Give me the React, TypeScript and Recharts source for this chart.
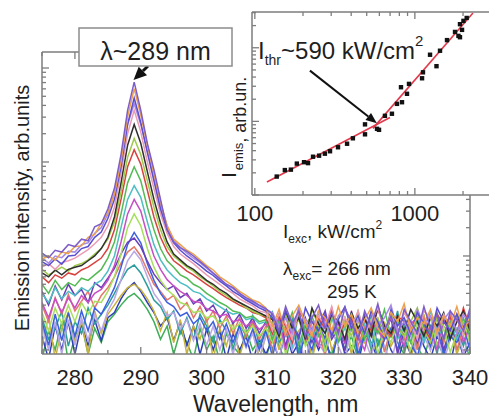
import React from 'react';
import { LineChart, Line, XAxis, YAxis, ComposedChart, Scatter, ReferenceLine } from 'recharts';

const FONT = '"Liberation Sans", Arial, sans-serif';
const AXIS = '#7d7d7d';
const INK = '#1f1f1f';

// wavelength grid, nm
const wavelengths = [
  275, 276, 277, 278, 279, 280, 281, 282, 283, 284,
  285, 286, 287, 288, 289, 290, 291, 292, 293, 294,
  295, 296, 297, 298, 299, 300, 301, 302, 303, 304,
  305, 306, 307, 308, 309, 310, 311, 312, 313, 314,
  315, 316, 317, 318, 319, 320, 321, 322, 323, 324,
  325, 326, 327, 328, 329, 330, 331, 332, 333, 334,
  335, 336, 337, 338, 339, 340,
];

// emission spectra, arb. units (lowest excitation first)
const grass = [
  0.8, 1.6, 1.0, 2.0, 0.75, 1.4, 1.9, 0.9, 1.7, 1.2,
  2.0, 2.4, 3.0, 3.6, 4.0, 3.4, 2.7, 2.0, 1.3, 1.8,
  0.9, 1.6, 1.2, 0.8, 1.7, 1.0, 1.4, 0.75, 1.5, 1.1,
  0.9, 1.6, 1.0, 1.3, 0.8, 1.5, 1.1, 0.75, 1.7, 1.0,
  1.3, 0.8, 1.9, 1.1, 0.9, 1.6, 1.0, 1.4, 0.8, 1.8,
  1.0, 1.3, 0.75, 1.6, 1.2, 0.9, 1.7, 1.1, 0.8, 1.5,
  1.2, 0.9, 1.6, 1.0, 1.4, 0.8,
];
const navy = [
  1.4, 0.8, 1.8, 1.0, 2.0, 0.9, 1.9, 1.12, 2.1, 1.26,
  2.2, 2.5, 3.5, 4.5, 5.2, 4.2, 3.2, 2.5, 1.8, 2.2,
  1.26, 2.0, 1.12, 1.8, 0.9, 1.66, 1.0, 1.6, 0.8, 1.5,
  1.0, 1.4, 0.76, 1.3, 0.9, 1.3, 0.8, 1.6, 0.9, 1.2,
  0.7, 1.5, 1.0, 1.4, 0.75, 1.7, 0.9, 1.1, 0.7, 1.5,
  1.2, 0.8, 1.6, 1.0, 0.75, 1.3, 0.9, 1.7, 1.1, 0.8,
  1.4, 1.0, 0.7, 1.5, 0.85, 1.2,
];
const gold = [
  1.1, 2.3, 0.8, 1.7, 2.5, 1.2, 2.0, 0.9, 2.6, 1.5,
  2.4, 3.0, 3.8, 4.6, 5.0, 4.4, 3.5, 2.6, 1.6, 2.5,
  1.2, 2.1, 0.9, 1.8, 1.3, 2.2, 0.8, 1.7, 1.1, 2.0,
  0.85, 1.5, 1.9, 0.8, 1.4, 1.9, 1.0, 2.3, 1.3, 1.6,
  2.0, 0.8, 1.5, 2.2, 1.0, 1.4, 1.8, 0.9, 2.1, 1.2,
  1.6, 0.8, 2.0, 1.1, 1.5, 1.9, 0.85, 1.3, 2.4, 1.0,
  1.6, 1.2, 1.9, 0.9, 1.4, 2.1,
];
const teal = [
  2.2, 1.3, 1.7, 2.6, 1.1, 2.0, 1.5, 2.8, 1.9, 2.4,
  3.0, 4.0, 5.5, 7.2, 8.0, 6.6, 4.8, 3.4, 2.9, 2.1,
  2.6, 1.5, 2.2, 1.3, 2.4, 1.8, 1.2, 2.1, 1.6, 1.0,
  1.9, 1.4, 2.3, 1.1, 1.7, 2.5, 1.2, 1.6, 2.2, 0.9,
  1.8, 1.3, 2.4, 1.0, 1.6, 2.1, 1.2, 1.9, 0.85, 1.5,
  2.3, 1.1, 1.7, 1.4, 2.6, 1.0, 1.5, 2.0, 1.2, 1.8,
  0.9, 2.2, 1.4, 1.7, 1.1, 2.0,
];
const lavender = [
  1.8, 1.0, 2.0, 0.9, 2.1, 1.12, 2.2, 1.26, 2.4, 1.6,
  2.6, 3.5, 5.6, 8.9, 11.2, 9.1, 6.0, 4.0, 3.2, 2.3,
  2.5, 1.66, 2.1, 1.26, 1.9, 1.12, 1.8, 1.0, 1.66, 0.9,
  1.6, 1.05, 1.5, 0.8, 1.45, 1.4, 0.8, 1.7, 1.0, 1.5,
  0.7, 1.8, 1.2, 0.9, 1.6, 1.1, 0.75, 1.9, 1.0, 1.3,
  0.85, 1.7, 1.1, 0.7, 1.5, 1.2, 1.8, 0.8, 1.4, 1.0,
  1.6, 0.75, 1.3, 1.7, 0.9, 1.5,
];
const salmon = [
  3.0, 2.0, 3.6, 2.4, 3.9, 2.6, 3.3, 4.2, 2.8, 3.8,
  4.6, 6.0, 8.4, 11, 12.5, 10, 7.0, 5.0, 4.2, 3.4,
  3.8, 2.7, 3.2, 2.2, 2.9, 2.0, 2.6, 1.7, 2.3, 1.5,
  2.2, 1.4, 2.0, 1.3, 1.8, 1.0, 2.1, 1.4, 1.7, 2.5,
  1.2, 2.0, 1.5, 0.9, 2.2, 1.6, 1.3, 2.4, 1.1, 1.8,
  1.4, 2.1, 0.95, 1.7, 2.3, 1.3, 1.9, 1.0, 2.2, 1.5,
  1.8, 1.2, 2.4, 1.0, 1.7, 1.3,
];
const blue = [
  2.0, 1.12, 2.4, 1.26, 2.5, 1.4, 2.6, 1.6, 2.8, 2.4,
  3.3, 4.6, 7.6, 13.2, 17.8, 13.8, 8.3, 5.5, 4.0, 3.2,
  2.9, 2.3, 2.5, 1.9, 2.2, 1.6, 2.0, 1.3, 1.9, 1.2,
  1.8, 1.1, 1.66, 1.0, 1.6, 0.85, 1.7, 1.1, 2.0, 0.8,
  1.5, 1.0, 1.9, 1.3, 0.75, 1.6, 1.2, 2.1, 0.9, 1.4,
  1.8, 0.8, 1.3, 1.7, 1.0, 2.0, 1.2, 0.85, 1.6, 1.1,
  1.9, 0.9, 1.4, 1.2, 1.8, 1.0,
];
const indigo = [
  4.2, 3.0, 4.8, 3.4, 5.0, 3.8, 4.4, 3.2, 5.2, 4.6,
  5.8, 7.4, 10.5, 14, 15.5, 12.5, 8.8, 6.4, 5.2, 4.4,
  4.8, 3.6, 4.0, 3.1, 3.5, 2.6, 3.0, 2.2, 2.7, 1.9,
  2.4, 1.7, 2.2, 1.5, 2.0, 1.6, 2.4, 1.1, 1.9, 1.4,
  2.2, 1.2, 1.8, 2.6, 1.3, 1.7, 1.0, 2.1, 1.5, 2.4,
  1.1, 1.8, 1.4, 2.2, 0.9, 1.6, 2.0, 1.2, 1.9, 1.5,
  2.3, 1.0, 1.7, 1.3, 2.1, 1.4,
];
const lime = [
  2.5, 1.6, 2.8, 1.9, 3.0, 2.0, 3.2, 2.4, 3.3, 3.2,
  4.2, 6.0, 10.5, 20, 28, 21, 12, 7.6, 5.5, 4.4,
  3.8, 3.2, 3.0, 2.5, 2.6, 2.2, 2.3, 1.9, 2.1, 1.66,
  1.9, 1.5, 1.8, 1.4, 1.7, 1.2, 1.9, 0.9, 1.6, 2.2,
  1.1, 1.5, 2.0, 0.95, 1.7, 1.3, 2.3, 1.0, 1.8, 1.4,
  2.1, 0.9, 1.6, 1.2, 2.0, 1.5, 1.0, 1.9, 1.3, 2.2,
  1.1, 1.7, 0.95, 1.5, 2.0, 1.2,
];
const magenta = [
  3.2, 2.2, 3.5, 2.5, 3.6, 2.8, 3.8, 3.2, 4.0, 4.4,
  5.5, 7.9, 14.1, 28, 40, 30, 16.6, 10, 7.2, 5.6,
  4.8, 4.2, 3.8, 3.3, 3.2, 2.75, 2.6, 2.3, 2.4, 2.0,
  2.1, 1.8, 2.0, 1.65, 1.9, 1.5, 2.1, 1.0, 1.8, 2.4,
  1.3, 1.7, 1.1, 2.2, 1.5, 1.9, 1.2, 2.6, 1.4, 1.0,
  2.0, 1.6, 1.3, 2.3, 1.5, 1.1, 1.9, 2.2, 1.4, 1.7,
  1.0, 2.1, 1.5, 2.4, 1.2, 1.8,
];
const cyan = [
  4.0, 3.2, 4.6, 3.5, 4.2, 3.8, 4.6, 4.2, 5.0, 5.5,
  6.9, 10, 20, 40, 56, 42, 23, 13.2, 9.1, 7.1,
  6.0, 5.2, 4.8, 4.2, 4.0, 3.5, 3.2, 2.9, 2.6, 2.4,
  2.5, 2.1, 2.2, 1.9, 2.0, 2.2, 1.4, 1.8, 1.1, 2.4,
  1.6, 1.3, 2.0, 1.5, 2.3, 1.2, 1.7, 2.5, 1.4, 1.9,
  1.1, 2.1, 1.6, 2.4, 1.3, 1.8, 1.5, 2.2, 1.2, 2.6,
  1.7, 1.4, 2.0, 1.3, 1.9, 2.3,
];
const green = [
  5.0, 4.0, 5.5, 4.4, 5.2, 4.8, 5.8, 5.5, 6.3, 7.2,
  9.5, 14.1, 28, 60, 89, 63, 33, 19, 12, 8.9,
  7.6, 6.3, 5.8, 5.0, 4.6, 4.0, 3.6, 3.2, 2.95, 2.6,
  2.5, 2.2, 2.3, 2.0, 2.1, 1.3, 2.0, 1.6, 2.5, 1.1,
  1.9, 2.3, 1.4, 1.8, 2.6, 1.2, 2.1, 1.6, 2.4, 1.3,
  1.9, 1.5, 2.7, 1.4, 2.0, 1.7, 1.2, 2.3, 1.8, 1.5,
  2.5, 1.3, 2.0, 1.6, 2.2, 1.4,
];
const red = [
  6.0, 5.2, 6.3, 5.8, 6.6, 6.3, 7.1, 7.6, 8.5, 9.5,
  12, 19, 40, 89, 135, 95, 50, 26, 15.8, 11.2,
  8.9, 7.9, 6.9, 6.3, 5.6, 5.0, 4.5, 4.0, 3.6, 3.3,
  3.0, 2.8, 2.5, 2.4, 2.2, 1.5, 2.3, 1.8, 1.2, 2.6,
  2.0, 1.4, 2.2, 1.7, 2.8, 1.5, 1.9, 2.4, 1.3, 2.1,
  1.6, 2.7, 1.8, 1.4, 2.3, 2.0, 1.5, 2.6, 1.7, 1.3,
  2.4, 1.9, 2.2, 1.5, 2.8, 1.7,
];
const olive = [
  7.2, 6.3, 6.9, 7.6, 6.9, 7.9, 8.3, 9.1, 10.5, 12,
  15.1, 23, 48, 112, 178, 120, 63, 33, 19, 12.6,
  10, 8.7, 7.6, 6.9, 6.0, 5.4, 4.8, 4.2, 3.8, 3.4,
  3.2, 2.8, 2.6, 2.4, 2.3, 1.9, 1.3, 2.4, 1.6, 2.1,
  1.4, 2.7, 1.8, 1.2, 2.3, 1.7, 2.0, 1.4, 2.6, 1.5,
  1.9, 2.2, 1.3, 2.5, 1.7, 1.4, 2.0, 2.8, 1.6, 1.2,
  2.2, 1.8, 1.5, 2.4, 1.9, 1.6,
];
const black = [
  6.6, 6.0, 7.1, 6.3, 7.2, 7.6, 7.9, 8.9, 10, 12,
  15.8, 26, 60, 151, 251, 158, 79, 40, 22.4, 14.1,
  10.5, 9.1, 7.9, 7.2, 6.3, 5.5, 5.0, 4.4, 4.0, 3.5,
  3.2, 2.95, 2.7, 2.5, 2.3, 2.1, 1.4, 2.6, 1.7, 2.2,
  1.3, 2.8, 1.9, 1.5, 2.4, 2.0, 1.3, 2.5, 1.7, 2.2,
  1.4, 2.9, 1.8, 1.5, 2.3, 1.6, 2.7, 2.0, 1.4, 2.2,
  1.8, 2.5, 1.3, 2.0, 2.6, 1.6,
];
const pink = [
  7.6, 8.3, 7.2, 8.5, 8.9, 9.5, 10.5, 11.7, 13.5, 15.8,
  20.9, 33, 76, 200, 355, 209, 100, 52, 28, 17.4,
  12.6, 10.5, 9.3, 8.3, 7.2, 6.3, 5.6, 5.0, 4.4, 4.0,
  3.5, 3.2, 2.95, 2.6, 2.5, 1.6, 2.4, 1.9, 1.3, 2.7,
  2.1, 1.5, 2.3, 1.8, 2.9, 1.4, 2.2, 1.7, 2.6, 1.5,
  2.0, 2.8, 1.6, 2.3, 1.4, 2.5, 1.9, 1.3, 2.6, 2.2,
  1.5, 2.4, 1.8, 2.1, 1.5, 2.7,
];
const lilac = [
  9.5, 8.4, 10, 9.6, 11.2, 11.0, 13.2, 13.8, 17.4, 20,
  28, 46, 100, 251, 417, 251, 132, 69, 35.5, 21,
  14.8, 12.3, 10.7, 9.5, 8.5, 7.4, 6.5, 5.6, 5.0, 4.5,
  4.0, 3.5, 3.2, 2.95, 2.7, 2.5, 1.8, 2.2, 1.5, 2.9,
  2.0, 1.6, 2.6, 1.9, 1.4, 2.3, 2.8, 1.7, 2.1, 1.5,
  2.5, 1.8, 2.2, 3.0, 1.6, 2.0, 1.4, 2.7, 1.9, 2.3,
  1.6, 2.1, 2.6, 1.5, 2.4, 1.9,
];
const violet = [
  8.7, 7.9, 9.3, 8.2, 10, 10.2, 12, 12.6, 15.8, 18,
  25, 40, 89, 251, 479, 263, 126, 63, 31.6, 19,
  13.8, 11.5, 10, 8.9, 7.9, 6.9, 6.2, 5.4, 4.8, 4.2,
  3.8, 3.4, 3.1, 2.8, 2.6, 2.2, 1.5, 2.6, 1.9, 1.3,
  2.8, 2.0, 1.6, 2.4, 1.4, 2.1, 2.9, 1.7, 2.3, 1.5,
  2.6, 2.0, 1.3, 2.7, 1.8, 2.2, 1.5, 2.5, 1.9, 1.4,
  2.8, 2.0, 1.6, 2.4, 1.7, 2.5,
];
const orange = [
  9.3, 10, 9.0, 11, 10.6, 12.6, 12.8, 15.8, 17.0, 22.4,
  28.8, 45.7, 100, 302, 603, 316, 151, 76, 38, 20.9,
  15.1, 13.2, 11.5, 10.5, 9.1, 7.9, 7.1, 6.0, 5.4, 4.8,
  4.2, 3.8, 3.4, 3.2, 2.8, 1.8, 2.7, 1.5, 2.3, 3.0,
  1.9, 1.4, 2.6, 2.2, 1.6, 2.9, 1.8, 2.4, 1.5, 2.1,
  2.8, 1.7, 1.4, 2.5, 2.0, 3.1, 1.6, 2.2, 1.9, 2.7,
  1.5, 2.3, 1.8, 2.9, 1.6, 2.2,
];
const purple = [
  10.7, 9.6, 11.5, 11.0, 13.2, 12.6, 15.1, 14.5, 20.4, 22,
  31.6, 52.5, 120, 355, 708, 355, 158, 83, 40, 19.1,
  14.1, 12.3, 11.2, 10, 8.7, 7.6, 6.6, 5.75, 5.0, 4.6,
  4.0, 3.6, 3.3, 3.0, 2.75, 2.4, 1.6, 2.9, 1.9, 2.6,
  1.4, 2.2, 3.0, 1.7, 2.5, 1.5, 2.8, 2.0, 1.3, 2.6,
  1.8, 3.1, 1.6, 2.3, 1.4, 2.7, 2.0, 1.5, 2.9, 1.7,
  2.4, 1.3, 2.6, 2.1, 1.6, 2.8,
];

const spectra = [
  { key: 'grass', color: '#3fae58', values: grass },
  { key: 'navy', color: '#2f3fb5', values: navy },
  { key: 'gold', color: '#c9b23c', values: gold },
  { key: 'teal', color: '#2c9c9c', values: teal },
  { key: 'lavender', color: '#b9a7e6', values: lavender },
  { key: 'salmon', color: '#e4766a', values: salmon },
  { key: 'blue', color: '#3d5fe0', values: blue },
  { key: 'indigo', color: '#6a3fb8', values: indigo },
  { key: 'lime', color: '#a6de5e', values: lime },
  { key: 'magenta', color: '#c64fc4', values: magenta },
  { key: 'cyan', color: '#4dbec4', values: cyan },
  { key: 'green', color: '#54bb54', values: green },
  { key: 'red', color: '#d8433f', values: red },
  { key: 'olive', color: '#9fca4a', values: olive },
  { key: 'black', color: '#303030', values: black },
  { key: 'pink', color: '#eb9cb4', values: pink },
  { key: 'lilac', color: '#a58ae6', values: lilac },
  { key: 'violet', color: '#5a4fcf', values: violet },
  { key: 'orange', color: '#eda14c', values: orange },
  { key: 'purple', color: '#7d5dc8', values: purple },
];

const rows = wavelengths.map((w, i) => {
  const r: Record<string, number> = { w };
  spectra.forEach((s) => {
    r[s.key] = s.values[i];
  });
  return r;
});

const xTicks = [275, 280, 285, 290, 295, 300, 305, 310, 315, 320, 325, 330, 335, 340];
const xLabels = [280, 290, 300, 310, 320, 330, 340];
const yTicks = [
  1, 2, 3, 4, 5, 6, 7, 8, 9, 10, 20, 30, 40, 50, 60, 70, 80, 90,
  100, 200, 300, 400, 500, 600, 700, 800, 900, 1000,
];

// inset: emission vs excitation intensity
const excitation = [
  137, 154, 168, 183, 203, 215, 231, 252, 274, 295,
  331, 377, 410, 488, 488, 580, 597, 650, 719, 773,
  831, 819, 893, 919, 1109, 1124, 1244, 1365, 1436, 1588,
  1782, 1872, 1914, 1914, 1971, 2012, 2108,
];
const emission = [
  1.78, 2.18, 2.21, 2.67, 2.79, 2.71, 3.31, 3.42, 3.64, 3.93,
  4.45, 4.97, 5.89, 9.11, 6.67, 7.92, 7.68, 11.9, 12.7, 17.3,
  18.2, 29.1, 23.7, 32.3, 38.5, 46.4, 80.4, 56.2, 91.1, 127,
  164, 145, 209, 139, 175, 232, 254,
];
const fitBelowX = [119, 699];
const fitBelowY = [1.5, 11.3];
const fitAboveX = [547, 2307];
const fitAboveY = [8.04, 297];

const points = excitation.map((x, i) => ({ x, y: emission[i] }));
const fitBelow = fitBelowX.map((x, i) => ({ x, y: fitBelowY[i] }));
const fitAbove = fitAboveX.map((x, i) => ({ x, y: fitAboveY[i] }));

const insetXTicks = [100, 200, 300, 400, 500, 600, 700, 800, 900, 1000, 2000, 3000];
const insetYTicks = [1, 2, 3, 4, 5, 6, 7, 8, 9, 10, 20, 30, 40, 50, 60, 70, 80, 90, 100, 200, 300];

const isDecade = (v: number) => Math.abs(Math.log10(v) - Math.round(Math.log10(v))) < 1e-9;

function makeTick(
  side: 'bottom' | 'top' | 'left' | 'right',
  isMajor: (v: number) => boolean,
  label?: (v: number) => string | null,
  fontSize = 22,
  offset = 30,
) {
  return (props: any) => {
    const { x, y, payload } = props;
    const v = payload.value;
    const len = isMajor(v) ? 7 : 4;
    let x2 = x;
    let y2 = y;
    if (side === 'bottom') y2 = y - len;
    if (side === 'top') y2 = y + len;
    if (side === 'left') x2 = x + len;
    if (side === 'right') x2 = x - len;
    const text = label ? label(v) : null;
    return (
      <g>
        <line x1={x} y1={y} x2={x2} y2={y2} stroke={AXIS} strokeWidth={1.3} />
        {text && (
          <text x={x} y={y + offset} textAnchor="middle" fontSize={fontSize} fontFamily={FONT} fill={INK}>
            {text}
          </text>
        )}
      </g>
    );
  };
}

function ArrowLine(props: any) {
  const { x1, y1, x2, y2, head = 12, wing = 6, width = 2.5 } = props;
  const dx = x2 - x1;
  const dy = y2 - y1;
  const len = Math.hypot(dx, dy) || 1;
  const ux = dx / len;
  const uy = dy / len;
  const bx = x2 - ux * head;
  const by = y2 - uy * head;
  const px = -uy * wing;
  const py = ux * wing;
  return (
    <g>
      <line x1={x1} y1={y1} x2={bx} y2={by} stroke="#111" strokeWidth={width} />
      <polygon points={`${x2},${y2} ${bx + px},${by + py} ${bx - px},${by - py}`} fill="#111" />
    </g>
  );
}

const mainX = (v: number) => xLabels.includes(v);
const axisLine = { stroke: AXIS, strokeWidth: 1.5 };

export default function App() {
  return (
    <div style={{ position: 'absolute', left: 0, top: 0, width: 489, height: 416, overflow: 'hidden', background: '#fff' }}>
      <div style={{ position: 'absolute', left: 0, top: 0 }}>
        <LineChart width={489} height={416} data={rows} margin={{ top: 42, right: 9, bottom: 32, left: 12 }}>
          <XAxis
            dataKey="w"
            type="number"
            domain={[275, 340]}
            allowDataOverflow
            ticks={xTicks}
            interval={0}
            height={30}
            tickSize={0}
            tickMargin={0}
            tickLine={false}
            axisLine={axisLine}
            tick={makeTick('bottom', mainX, (v) => (mainX(v) ? String(v) : null), 22, 31)}
          />
          <XAxis
            xAxisId="top"
            orientation="top"
            dataKey="w"
            type="number"
            domain={[275, 340]}
            allowDataOverflow
            ticks={xTicks}
            interval={0}
            height={10}
            tickSize={0}
            tickMargin={0}
            tickLine={false}
            axisLine={axisLine}
            tick={makeTick('top', mainX)}
          />
          <YAxis
            type="number"
            scale="log"
            domain={[0.906, 1480]}
            allowDataOverflow
            ticks={yTicks}
            interval={0}
            width={30}
            tickSize={0}
            tickMargin={0}
            tickLine={false}
            axisLine={axisLine}
            tick={makeTick('left', isDecade)}
          />
          <YAxis
            yAxisId="right"
            orientation="right"
            type="number"
            scale="log"
            domain={[0.906, 1480]}
            allowDataOverflow
            ticks={yTicks}
            interval={0}
            width={10}
            tickSize={0}
            tickMargin={0}
            tickLine={false}
            axisLine={axisLine}
            tick={makeTick('right', isDecade)}
          />
          {spectra.map((s) => (
            <Line
              key={s.key}
              dataKey={s.key}
              type="linear"
              stroke={s.color}
              strokeWidth={1.5}
              dot={false}
              activeDot={false}
              isAnimationActive={false}
            />
          ))}
          <ReferenceLine
            segment={[{ x: 291.1, y: 1050 }, { x: 288.9, y: 745 }]}
            ifOverflow="visible"
            shape={(p: any) => <ArrowLine {...p} head={13} wing={6} width={3} />}
          />
        </LineChart>
      </div>

      <div style={{ position: 'absolute', left: 228, top: 0, width: 261, height: 195, background: '#fff' }} />

      <div style={{ position: 'absolute', left: 200, top: 0 }}>
        <ComposedChart width={300} height={230} margin={{ top: 2, right: 8, bottom: 5, left: 22 }}>
          <XAxis
            dataKey="x"
            type="number"
            scale="log"
            domain={[96, 3034]}
            allowDataOverflow
            ticks={insetXTicks}
            interval={0}
            height={30}
            tickSize={0}
            tickMargin={0}
            tickLine={false}
            axisLine={axisLine}
            tick={makeTick('bottom', isDecade, (v) => (isDecade(v) ? String(v) : null), 22, 26)}
          />
          <XAxis
            xAxisId="top"
            orientation="top"
            dataKey="x"
            type="number"
            scale="log"
            domain={[96, 3034]}
            allowDataOverflow
            ticks={insetXTicks}
            interval={0}
            height={10}
            tickSize={0}
            tickMargin={0}
            tickLine={false}
            axisLine={axisLine}
            tick={makeTick('top', isDecade)}
          />
          <YAxis
            dataKey="y"
            type="number"
            scale="log"
            domain={[1, 306]}
            allowDataOverflow
            ticks={insetYTicks}
            interval={0}
            width={30}
            tickSize={0}
            tickMargin={0}
            tickLine={false}
            axisLine={axisLine}
            tick={makeTick('left', isDecade)}
          />
          <Line data={fitBelow} dataKey="y" stroke="#e23a4c" strokeWidth={1.6} dot={false} activeDot={false} isAnimationActive={false} />
          <Line data={fitAbove} dataKey="y" stroke="#e23a4c" strokeWidth={1.6} dot={false} activeDot={false} isAnimationActive={false} />
          <Scatter
            data={points}
            isAnimationActive={false}
            shape={(p: any) => <rect x={p.cx - 2.2} y={p.cy - 2.2} width={4.4} height={4.4} fill="#111" />}
          />
          <ReferenceLine
            segment={[{ x: 221, y: 48.9 }, { x: 579, y: 9.4 }]}
            ifOverflow="visible"
            shape={(p: any) => <ArrowLine {...p} head={11} wing={4.5} width={2} />}
          />
        </ComposedChart>
      </div>

      <svg width={489} height={416} style={{ position: 'absolute', left: 0, top: 0, pointerEvents: 'none' }} fontFamily={FONT} fill={INK}>
        <text transform="translate(29,208) rotate(-90)" textAnchor="middle" fontSize={20}>
          Emission intensity, arb.units
        </text>
        <text x={193} y={412} fontSize={23}>Wavelength, nm</text>

        <rect x={79} y={28} width={153} height={38} fill="#fff" stroke="#8c8c8c" strokeWidth={1.5} />
        <text x={155.5} y={60} textAnchor="middle" fontSize={25}>λ~289 nm</text>

        <text x={258} y={59} fontSize={24}>
          I<tspan fontSize={14} dy={6}>thr</tspan>
          <tspan dy={-6}>~590 kW/cm</tspan>
          <tspan fontSize={15} dy={-13}>2</tspan>
        </text>

        <text transform="translate(236,178) rotate(-90)" fontSize={21}>
          I<tspan fontSize={13} dx={2} dy={7}>emis</tspan>
          <tspan fontSize={18} dy={3}>, arb.un.</tspan>
        </text>

        <text x={283} y={238} fontSize={19}>
          I<tspan fontSize={12} dy={5}>exc</tspan>
          <tspan dy={-5}>, kW/cm</tspan>
          <tspan fontSize={12} dy={-9}>2</tspan>
        </text>
        <text x={283} y={275} fontSize={19}>
          λ<tspan fontSize={12} dy={5}>exc</tspan>
          <tspan dy={-5}>= 266 nm</tspan>
        </text>
        <text x={327} y={298} fontSize={19}>295 K</text>
      </svg>
    </div>
  );
}
